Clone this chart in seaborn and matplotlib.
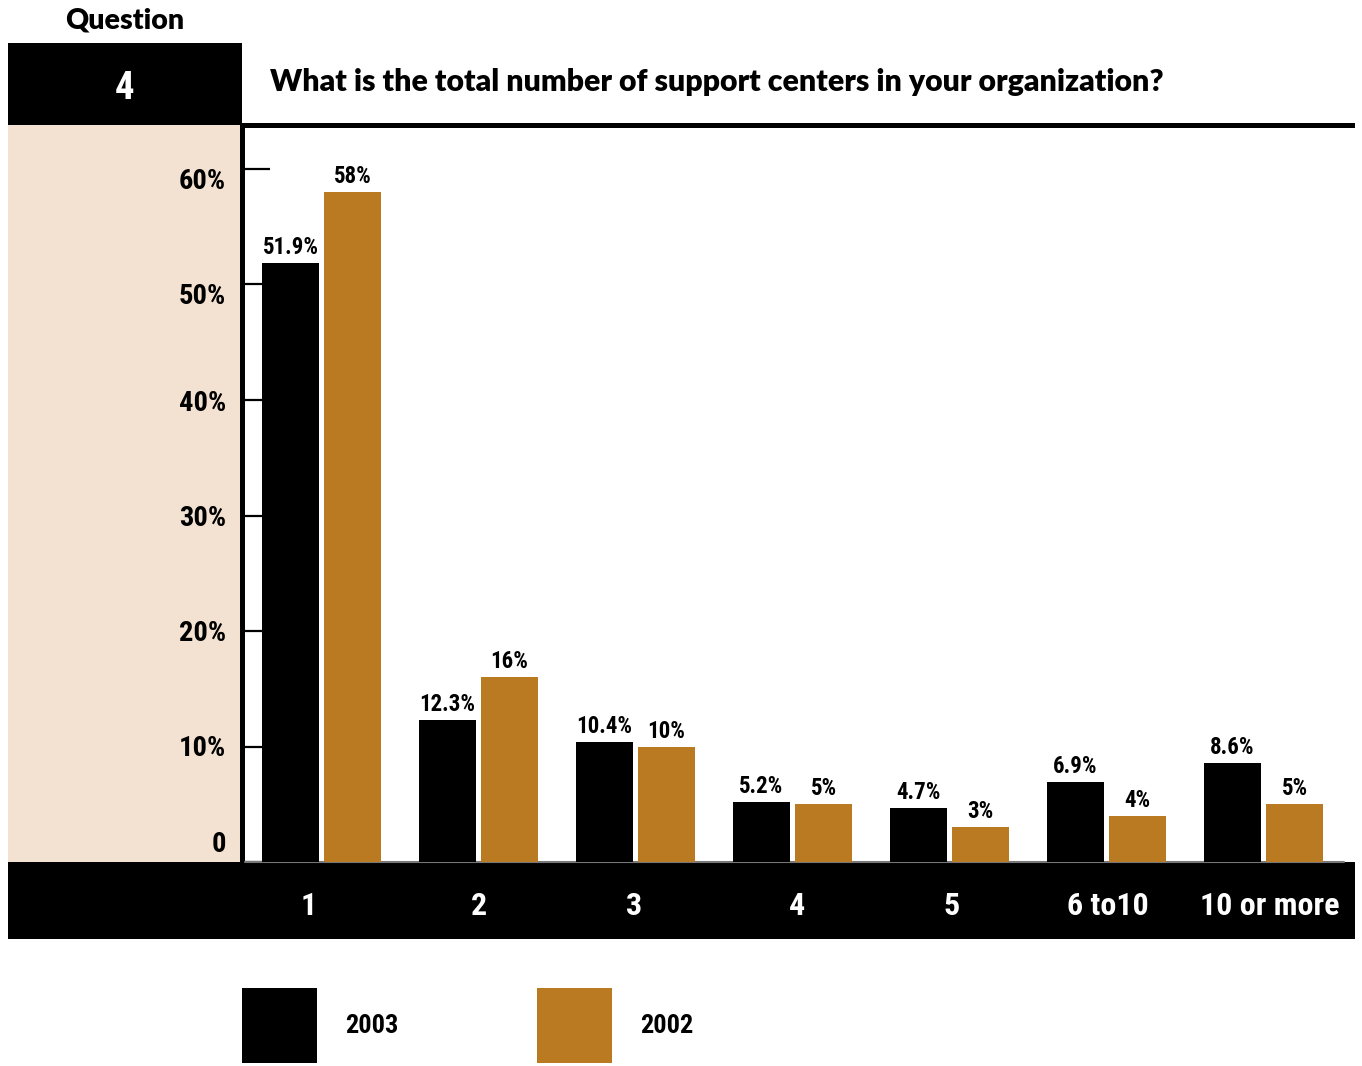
import os
import matplotlib
matplotlib.use("Agg")
import matplotlib.pyplot as plt
from matplotlib import font_manager as fm
from matplotlib.patches import Rectangle
import seaborn as sns
import pandas as pd

# ---- data ----
categories = ["1", "2", "3", "4", "5", "6 to10", "10 or more"]
values_2003 = [51.9, 12.3, 10.4, 5.2, 4.7, 6.9, 8.6]
values_2002 = [58, 16, 10, 5, 3, 4, 5]
years = ["2003", "2002"]
y_ticks = [0, 10, 20, 30, 40, 50, 60]
y_tick_labels = ["0", "10%", "20%", "30%", "40%", "50%", "60%"]
question_number = "4"
question_text = "What is the total number of support centers in your organization?"

# ---- styling ----
GOLD = "#B97A21"
BEIGE = "#F3E2D1"
W, H = 1362, 1066

sns.set_theme(style="white")
plt.rcParams["font.family"] = ["DejaVu Sans"]


def condensed_bold():
    """Find a narrow/condensed bold face among the installed fonts."""
    entries = [(os.path.basename(f.fname).lower(), f.fname) for f in fm.fontManager.ttflist]
    prefs = ["liberationsansnarrow-bold.ttf", "robotocondensed-bold.ttf",
             "opensans_condensed-bold.ttf", "opensanscondensed-bold.ttf",
             "dejavusanscondensed-bold.ttf"]
    names = dict(entries)
    for p in prefs:
        if p in names:
            return fm.FontProperties(fname=names[p])
    for base, path in entries:
        if ("narrow" in base or "condensed" in base) and "bold" in base and "italic" not in base:
            return fm.FontProperties(fname=path)
    return fm.FontProperties(family="DejaVu Sans", weight="bold")


COND = condensed_bold()
HEAD = fm.FontProperties(family=["Lato", "DejaVu Sans"], weight="heavy")

fig = plt.figure(figsize=(W / 100, H / 100), dpi=100)
fig.patch.set_facecolor("white")


def px_rect(x0, y0, x1, y1, color, z=-1):
    fig.add_artist(Rectangle((x0 / W, 1 - y1 / H), (x1 - x0) / W, (y1 - y0) / H,
                             transform=fig.transFigure, facecolor=color,
                             edgecolor="none", zorder=z))


# panel frame
px_rect(8, 43, 242, 125, "black")          # question number box
px_rect(8, 125, 242, 862, BEIGE)           # value-axis panel
px_rect(8, 862, 1355, 939, "black")        # category band
px_rect(240, 123, 1355, 128, "black")      # top rule
px_rect(240, 123, 245, 862, "black")       # value axis line

# ---- bars ----
ax_l, ax_r, ax_t, ax_b = 245, 1355, 125, 862
ax = fig.add_axes([ax_l / W, 1 - ax_b / H, (ax_r - ax_l) / W, (ax_b - ax_t) / H])
ax.set_facecolor("none")

df = pd.DataFrame({
    "category": categories * 2,
    "share": values_2003 + values_2002,
    "year": [years[0]] * len(categories) + [years[1]] * len(categories),
})
sns.barplot(data=df, x="category", y="share", hue="year", order=categories,
            hue_order=years, palette={years[0]: "black", years[1]: GOLD},
            width=0.79, gap=0.08, saturation=1, errorbar=None,
            linewidth=0, edgecolor="none", legend=False, ax=ax)

pitch = 157.0
x0 = -(321.5 - ax_l) / pitch
x1 = (ax_r - 321.5) / pitch
ax.set_xlim(x0, x1)
ax.set_ylim(0, (ax_b - ax_t) / 11.55)
ax.set_axisbelow(True)
for s in ax.spines.values():
    s.set_visible(False)
ax.set_xlabel("")
ax.set_ylabel("")
ax.set_xticks([])
ax.set_yticks(y_ticks)
ax.tick_params(axis="y", direction="in", length=18, width=1.6, color="black",
               left=True, labelleft=False)

# thin baseline along the band edge
ax.plot([x0, 6.51], [0, 0], color="#777777", lw=1.5, clip_on=False, zorder=0.8)

# value labels on the bars
for container, vals in zip(ax.containers, [values_2003, values_2002]):
    for bar, v in zip(container, vals):
        ax.annotate(f"{v:g}%", xy=(bar.get_x() + bar.get_width() / 2, bar.get_height()),
                    xytext=(0, 9), textcoords="offset pixels", ha="center",
                    va="baseline", fontproperties=COND, fontsize=16.5, color="black")

# value-axis labels on the beige panel
label_shift = {0: 10, 10: -9, 20: -10, 30: -10, 40: -11, 50: -20, 60: -20}
for v, lab in zip(y_ticks, y_tick_labels):
    ax.annotate(lab, xy=(0, v), xycoords=("axes fraction", "data"),
                xytext=(-19, label_shift[v]), textcoords="offset pixels",
                ha="right", va="baseline", fontproperties=COND, fontsize=20.5,
                color="black", annotation_clip=False)

# category labels in the black band
cat_nudge = [-13, 0, -1, 4, 2, 1, 6]
for i, (cat, dx) in enumerate(zip(categories, cat_nudge)):
    ax.annotate(cat, xy=(i, 0), xycoords=("data", "axes fraction"),
                xytext=(dx, -53), textcoords="offset pixels", ha="center",
                va="baseline", fontproperties=COND, fontsize=23, color="white",
                annotation_clip=False)

# ---- header ----
fig.text(125 / W, 1 - 99 / H, question_number, ha="center", va="baseline",
         fontproperties=COND, fontsize=28, color="white")
t_title = fig.text(270 / W, 1 - 91 / H, question_text, ha="left", va="baseline",
                   fontproperties=HEAD, fontsize=19, color="black")
t_q = fig.text(65 / W, 1 - 28 / H, "Question", ha="left", va="baseline",
               fontproperties=HEAD, fontsize=17, color="black")

fig.canvas.draw()
rend = fig.canvas.get_renderer()
for t, target in [(t_title, 893), (t_q, 119)]:
    w = t.get_window_extent(rend).width
    t.set_fontsize(t.get_fontsize() * target / w)

# ---- legend ----
legend_items = [(242, years[0], "black"), (537, years[1], GOLD)]
for lx, lab, col in legend_items:
    px_rect(lx, 988, lx + 75, 1063, col)
    fig.text((lx + 103) / W, 1 - 1033 / H, lab, ha="left", va="baseline",
             fontproperties=COND, fontsize=19, color="black")

fig.savefig("out.png", dpi=100, facecolor="white")
